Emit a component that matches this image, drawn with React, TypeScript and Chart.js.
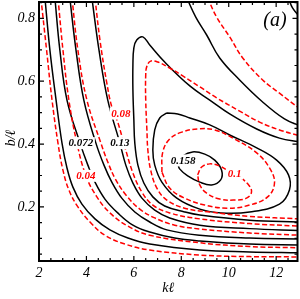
import React, { useEffect, useRef } from "react";
import { Chart, registerables } from "chart.js";

Chart.register(...registerables);

type P = [number, number];

// axis ranges and ticks
const xRange: P = [2, 12.9];
const yRange: P = [0.028, 0.852];
const xTicks = [2, 4, 6, 8, 10, 12];
const xMinorTicks = [2.5, 3, 3.5, 4.5, 5, 5.5, 6.5, 7, 7.5, 8.5, 9, 9.5, 10.5, 11, 11.5, 12.5];
const yTicks = [0.2, 0.4, 0.6, 0.8];
const yMinorTicks = [0.05, 0.1, 0.15, 0.25, 0.3, 0.35, 0.45, 0.5, 0.55, 0.65, 0.7, 0.75, 0.85];

// black solid contours
const black1: P[] = [[2.25, 0.865], [2.46, 0.699], [2.72, 0.54], [2.97, 0.403], [3.18, 0.324], [3.43, 0.263], [3.81, 0.209], [4.36, 0.162], [4.99, 0.127], [5.75, 0.101], [6.67, 0.082], [8.78, 0.063], [10.88, 0.057], [13.0, 0.054]];
const black2: P[] = [[2.67, 0.865], [2.88, 0.699], [3.18, 0.54], [3.73, 0.403], [4.06, 0.333], [4.36, 0.279], [4.78, 0.225], [5.32, 0.181], [5.96, 0.142], [6.67, 0.12], [7.72, 0.101], [8.78, 0.092], [10.88, 0.082], [13.0, 0.079]];
const black3: P[] = [[3.3, 0.865], [3.56, 0.699], [3.89, 0.54], [4.4, 0.403], [4.74, 0.333], [5.07, 0.279], [5.49, 0.228], [6.04, 0.184], [6.67, 0.152], [7.39, 0.127], [8.78, 0.11], [10.88, 0.101], [13.0, 0.098]];
const black4: P[] = [[4.23, 0.865], [4.53, 0.699], [4.9, 0.54], [5.41, 0.403], [5.66, 0.333], [5.96, 0.276], [6.34, 0.228], [6.88, 0.19], [7.51, 0.165], [8.78, 0.142], [10.88, 0.131], [13.0, 0.125]];
const black5: P[] = [[13.0, 0.152], [10.88, 0.158], [8.78, 0.174], [8.14, 0.184], [7.3, 0.203], [6.8, 0.232], [6.42, 0.276], [6.17, 0.333], [6.04, 0.403], [6.0, 0.477], [5.96, 0.572], [5.96, 0.652], [6.0, 0.706], [6.12, 0.731], [6.38, 0.741], [6.67, 0.715], [7.3, 0.661], [8.36, 0.585], [9.2, 0.54], [10.04, 0.496], [11.18, 0.448], [12.14, 0.419], [13.0, 0.407]];
const black6: P[] = [[7.39, 0.499], [7.85, 0.496], [8.36, 0.483], [9.2, 0.461], [10.04, 0.429], [11.18, 0.388], [12.02, 0.349], [12.52, 0.302], [12.56, 0.254], [12.14, 0.209], [10.88, 0.184], [9.7, 0.181], [8.78, 0.193], [7.81, 0.228], [7.18, 0.279], [6.88, 0.333], [6.8, 0.381], [6.88, 0.445], [7.09, 0.483], [7.39, 0.499]];
const black7: P[] = [[7.85, 0.34], [8.06, 0.362], [8.48, 0.375], [8.99, 0.368], [9.41, 0.349], [9.7, 0.317], [9.66, 0.286], [9.28, 0.27], [8.78, 0.279], [8.27, 0.299], [7.93, 0.321], [7.85, 0.34]];
const blackTop: P[] = [[8.23, 0.865], [8.61, 0.804], [9.07, 0.747], [9.62, 0.674], [10.46, 0.604], [11.43, 0.534], [12.35, 0.48], [13.0, 0.458]];
const blackCorner: P[] = [[12.52, 0.865], [12.69, 0.833], [13.0, 0.804]];

// red dashed contours
const red1: P[] = [[2.08, 0.865], [2.32, 0.699], [2.55, 0.54], [2.8, 0.403], [3.01, 0.317], [3.26, 0.254], [3.64, 0.2], [4.15, 0.152], [4.78, 0.11], [5.62, 0.082], [6.67, 0.063], [8.78, 0.047], [10.88, 0.042], [13.0, 0.041]];
const red2: P[] = [[2.8, 0.865], [3.01, 0.699], [3.26, 0.54], [3.6, 0.403], [3.98, 0.299], [4.44, 0.232], [4.99, 0.181], [5.75, 0.139], [6.67, 0.11], [8.78, 0.086], [10.88, 0.074], [13.0, 0.07]];
const red3: P[] = [[3.39, 0.865], [3.64, 0.699], [4.02, 0.54], [4.61, 0.403], [4.9, 0.343], [5.24, 0.286], [5.7, 0.235], [6.25, 0.193], [6.88, 0.165], [7.72, 0.142], [8.78, 0.13], [10.88, 0.117], [13.0, 0.11]];
const red4: P[] = [[4.36, 0.865], [4.57, 0.731], [4.86, 0.594], [5.07, 0.518], [5.32, 0.47], [5.62, 0.391], [5.96, 0.308], [6.34, 0.247], [6.8, 0.206], [7.51, 0.181], [8.78, 0.162], [10.88, 0.147], [13.0, 0.139]];
const red5: P[] = [[13.0, 0.162], [10.88, 0.17], [9.2, 0.184], [8.14, 0.196], [7.39, 0.222], [6.97, 0.26], [6.71, 0.317], [6.59, 0.381], [6.55, 0.445], [6.5, 0.54], [6.5, 0.62], [6.55, 0.648], [6.71, 0.664], [7.01, 0.661], [7.51, 0.642], [8.06, 0.617], [8.78, 0.582], [9.49, 0.547], [10.46, 0.505], [11.3, 0.47], [12.14, 0.445], [13.0, 0.426]];
const red6: P[] = [[7.18, 0.311], [7.22, 0.375], [7.51, 0.416], [8.02, 0.438], [8.69, 0.448], [9.41, 0.445], [10.25, 0.416], [11.18, 0.372], [11.72, 0.324], [11.93, 0.276], [11.64, 0.232], [10.88, 0.206], [9.95, 0.196], [8.99, 0.206], [8.14, 0.228], [7.51, 0.26], [7.18, 0.311]];
const red7: P[] = [[8.69, 0.302], [8.86, 0.327], [9.2, 0.337], [9.62, 0.33], [10.0, 0.314], [10.46, 0.295], [10.84, 0.27], [10.96, 0.247], [10.75, 0.228], [10.25, 0.222], [9.62, 0.225], [9.07, 0.244], [8.78, 0.27], [8.69, 0.302]];
const redTop: P[] = [[9.11, 0.865], [9.49, 0.804], [10.04, 0.741], [10.59, 0.674], [11.43, 0.604], [12.14, 0.562], [13.0, 0.512]];

const BLACK = "#000000";
const RED = "#ff0000";

const contourLabels = [
  { text: "0.072", x: 3.77, y: 0.403, color: BLACK },
  { text: "0.13", x: 5.41, y: 0.403, color: BLACK },
  { text: "0.158", x: 8.08, y: 0.348, color: BLACK },
  { text: "0.04", x: 3.98, y: 0.299, color: RED },
  { text: "0.08", x: 5.45, y: 0.497, color: RED },
  { text: "0.1", x: 10.25, y: 0.306, color: RED },
];

const blackCurves = [black1, black2, black3, black4, black5, black6, black7, blackTop, blackCorner];
const redCurves = [red1, red2, red3, red4, red5, red6, red7, redTop];

const SERIF = '"Liberation Serif", "Times New Roman", Times, serif';

export default function App() {
  const ref = useRef<HTMLCanvasElement>(null);

  useEffect(() => {
    document.body.style.margin = "0";
    const canvas = ref.current;
    if (!canvas) return;

    const mk = (curve: P[], color: string, dash: number[]) => ({
      data: curve.map(([x, y]) => ({ x, y })),
      showLine: true,
      borderColor: color,
      backgroundColor: color,
      borderWidth: 1.5,
      borderDash: dash,
      pointRadius: 0,
      pointHoverRadius: 0,
      tension: 0.4,
      fill: false,
      clip: 0,
    });

    const overlay = {
      id: "overlay",
      afterDatasetsDraw(chart: any) {
        const { ctx, scales } = chart;
        const xs = scales.x;
        const ys = scales.y;
        ctx.save();
        ctx.font = `italic bold 11px ${SERIF}`;
        ctx.textAlign = "center";
        ctx.textBaseline = "middle";
        for (const l of contourLabels) {
          const px = xs.getPixelForValue(l.x);
          const py = ys.getPixelForValue(l.y);
          const w = ctx.measureText(l.text).width;
          ctx.fillStyle = "#ffffff";
          ctx.fillRect(px - w / 2 - 1.5, py - 6, w + 3, 12);
          ctx.fillStyle = l.color;
          ctx.fillText(l.text, px, py + 0.5);
        }
        ctx.restore();
      },
      afterDraw(chart: any) {
        const { ctx, chartArea: a, scales } = chart;
        const xs = scales.x;
        const ys = scales.y;
        ctx.save();
        ctx.strokeStyle = "#000";
        ctx.lineWidth = 1.2;
        ctx.beginPath();
        const xt = (v: number, len: number) => {
          const p = xs.getPixelForValue(v);
          ctx.moveTo(p, a.bottom);
          ctx.lineTo(p, a.bottom - len);
          ctx.moveTo(p, a.top);
          ctx.lineTo(p, a.top + len);
        };
        const yt = (v: number, len: number) => {
          const p = ys.getPixelForValue(v);
          ctx.moveTo(a.left, p);
          ctx.lineTo(a.left + len, p);
          ctx.moveTo(a.right, p);
          ctx.lineTo(a.right - len, p);
        };
        xTicks.forEach((v) => xt(v, 5));
        xMinorTicks.forEach((v) => xt(v, 3));
        yTicks.forEach((v) => yt(v, 5));
        yMinorTicks.forEach((v) => yt(v, 3));
        ctx.stroke();
        ctx.lineWidth = 2;
        ctx.strokeRect(a.left, a.top, a.right - a.left, a.bottom - a.top);

        ctx.fillStyle = "#000";
        ctx.textAlign = "center";
        ctx.textBaseline = "middle";
        ctx.font = `italic 20px ${SERIF}`;
        ctx.fillText("(a)", a.right - 22.5, a.top + 19);

        ctx.save();
        ctx.translate(11, (a.top + a.bottom) / 2 + 6.5);
        ctx.rotate(-Math.PI / 2);
        ctx.font = `italic 14px ${SERIF}`;
        ctx.fillText("b/\u2113", 0, 0);
        ctx.restore();
        ctx.restore();
      },
    };

    const chart = new Chart(canvas, {
      type: "scatter",
      data: {
        datasets: [
          ...redCurves.map((c) => mk(c, RED, [5, 2.5])),
          ...blackCurves.map((c) => mk(c, BLACK, [])),
        ] as any,
      },
      options: {
        responsive: false,
        maintainAspectRatio: false,
        animation: false,
        devicePixelRatio: 1,
        events: [],
        layout: { padding: { top: 2, right: 2.5, left: 0, bottom: 0 } },
        elements: { line: { capBezierPoints: false } },
        plugins: { legend: { display: false }, tooltip: { enabled: false } },
        scales: {
          x: {
            type: "linear",
            min: xRange[0],
            max: xRange[1],
            afterBuildTicks: (s: any) => {
              s.ticks = xTicks.map((v) => ({ value: v }));
            },
            afterFit: (s: any) => {
              s.height = 38;
              s.paddingLeft = 0;
              s.paddingRight = 0;
            },
            grid: { display: false, drawTicks: false },
            border: { display: false },
            ticks: {
              autoSkip: false,
              maxRotation: 0,
              padding: 4,
              color: "#000",
              font: { family: SERIF, style: "italic", size: 14 },
              callback: (v: any) => String(v),
            },
            title: {
              display: true,
              text: "k\u2113",
              color: "#000",
              font: { family: SERIF, style: "italic", size: 14 },
              padding: { top: 0, bottom: 2 },
            },
          },
          y: {
            type: "linear",
            min: yRange[0],
            max: yRange[1],
            afterBuildTicks: (s: any) => {
              s.ticks = yTicks.map((v) => ({ value: v }));
            },
            afterFit: (s: any) => {
              s.width = 39;
              s.paddingTop = 0;
              s.paddingBottom = 0;
            },
            grid: { display: false, drawTicks: false },
            border: { display: false },
            ticks: {
              autoSkip: false,
              padding: 4,
              color: "#000",
              font: { family: SERIF, style: "italic", size: 14 },
              callback: (v: any) => String(v),
            },
          },
        },
      },
      plugins: [overlay],
    } as any);

    return () => chart.destroy();
  }, []);

  return <canvas ref={ref} width={300} height={299} style={{ display: "block" }} />;
}
